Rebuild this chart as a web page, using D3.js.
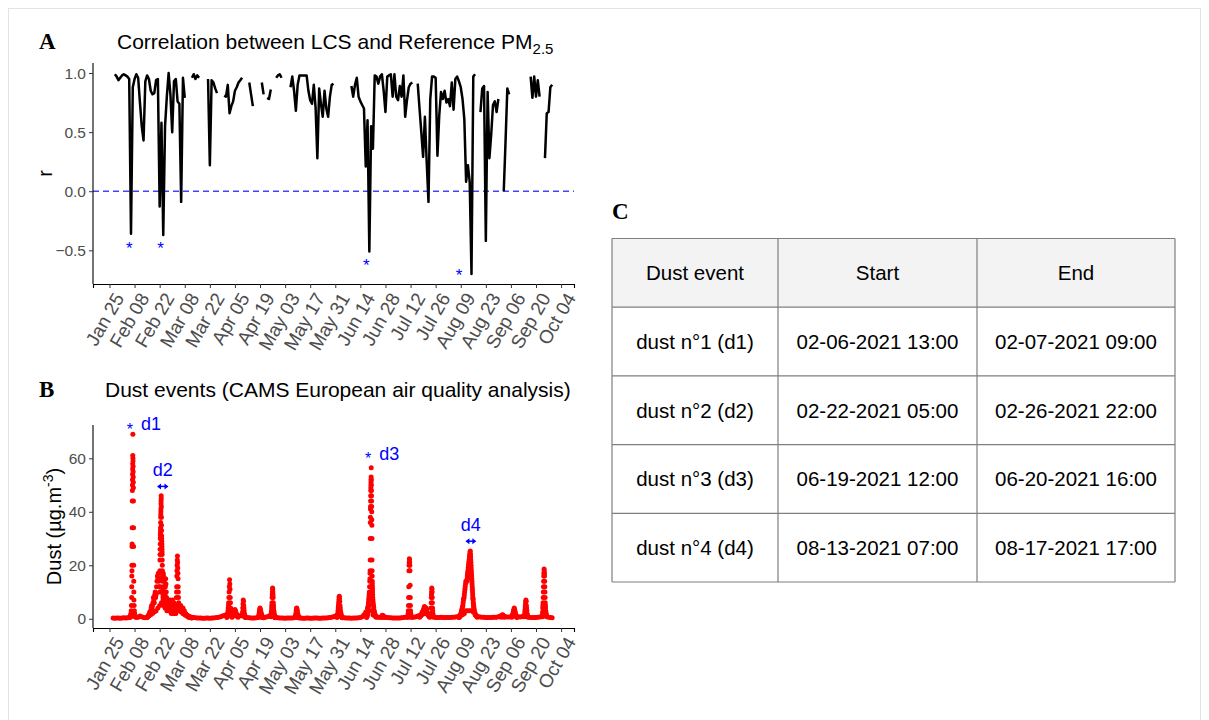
<!DOCTYPE html>
<html>
<head>
<meta charset="utf-8">
<script src="https://cdn.jsdelivr.net/npm/d3@7"></script>
<style>
  body { margin: 0; background: #fff; }
  text { font-family: Arial, "Liberation Sans", sans-serif; }
</style>
</head>
<body>
<div id="chart"></div>
<script>
const width = 1209;
const height = 720;

// daily correlation r between LCS and reference PM2.5, from 2021-01-28 (null = no data)
const rStart = "2021-01-28";
const rValues = [
  0.99, 0.97, 0.94, 0.96, 0.98, 0.99, 0.98, 0.97, 0.95, -0.36,
  0.88, 0.95, 0.99, 0.96, 0.75, 0.55, 0.43, 0.93, 0.98, 0.95,
  0.85, 0.82, 0.83, 0.94, 0.95, -0.13, 0.58, -0.37, 0.55, 0.80,
  1.00, 0.82, 0.50, 0.93, 0.95, 0.76, 0.74, -0.09, 0.96, 0.79,
  null, null, null, 0.96, 0.99, 0.95, 0.98, 0.96, null, null,
  null, null, 0.95, 0.22, 0.94, 0.92, 0.87, 0.83, null, null,
  null, 0.81, 0.80, 0.90, 0.66, 0.72, 0.76, 0.85, 0.88, 0.92,
  0.94, 0.96, null, null, null, 0.92, 0.82, 0.72, null, null,
  null, null, 0.92, 0.82, null, 0.79, 0.78, 0.86, null, null,
  0.96, 0.98, 0.99, 0.96, null, null, null, null, 0.88, 0.97,
  0.85, 0.68, 0.90, 0.98, 0.98, 0.98, 0.98, 0.98, 0.85, 0.77,
  0.74, 0.90, 0.71, 0.28, 0.87, 0.74, 0.63, 0.85, 0.70, 0.63,
  0.80, 0.90, 0.91, null, null, null, null, null, null, null,
  null, null, 0.89, 0.80, 0.90, 0.96, 0.80, 0.76, 0.73, 0.70,
  0.21, 0.60, -0.51, 0.55, 0.36, 0.98, 0.97, 0.91, 0.97, 0.99,
  0.85, 0.67, 0.97, 0.98, 0.99, 0.80, 0.99, 0.80, 0.77, 0.89,
  0.80, 0.98, 0.63, 0.77, 0.88, 0.91, 0.92, null, null, 0.91,
  0.70, 0.50, 0.29, 0.63, 0.25, -0.09, 0.78, 0.97, 0.97, 0.96,
  0.30, 0.64, 0.84, 0.78, 0.85, 0.75, 0.78, 0.72, 0.92, 0.69,
  0.95, 0.97, 0.93, 0.88, 0.78, 0.61, 0.08, 0.22, 0.08, -0.70,
  0.97, 0.99, null, null, 0.67, 0.87, 0.89, -0.42, 0.84, 0.28,
  0.48, 0.73, 0.76, 0.67, 0.78, null, null, 0.00, 0.42, 0.87,
  0.82, null, null, null, null, null, null, null, null, null,
  null, null, 0.97, 0.79, 0.97, 0.80, 0.94, 0.80, null, null,
  0.28, 0.66, 0.67, 0.88, 0.90
];

// asterisks under the dust-event dips
const rStarDates = ["2021-02-05 00", "2021-02-22 12", "2021-06-17 06", "2021-08-08 00"];
const rStarValues = [-0.44, -0.44, -0.59, -0.67];

const tickDates = ["2021-01-25", "2021-02-08", "2021-02-22", "2021-03-08", "2021-03-22",
  "2021-04-05", "2021-04-19", "2021-05-03", "2021-05-17", "2021-05-31", "2021-06-14",
  "2021-06-28", "2021-07-12", "2021-07-26", "2021-08-09", "2021-08-23", "2021-09-06",
  "2021-09-20", "2021-10-04"];
const rTicks = [-0.5, 0, 0.5, 1];
const dustTicks = [0, 20, 40, 60];

// dust background, one value per day from 2021-01-27
const dustDailyStart = "2021-01-27";
const dustDaily = [
  0.3, 0.2, 0.3, 0.3, 0.2, 0.3, 0.4, 0.3, 0.4, 0.6,
  1.0, 1.5, 0.8, 0.5, 0.6, 1.0, 0.8, 0.5, 0.4, 0.5,
  1.0, 1.5, 2.0, 2.5, 3, 4, 5, 6, 5, 4,
  3, 3, 4, 2.5, 3, 2, 4, 3, 2.5, 2,
  1.5, 1.2, 1.0, 0.8, 0.6, 0.5, 0.4, 0.3, 0.3, 0.3,
  0.2, 0.2, 0.3, 0.3, 0.2, 0.3, 0.3, 0.4, 0.5, 0.6,
  0.8, 1.0, 1.2, 1.5, 2, 1.5, 1.2, 1.5, 1.8, 1.2,
  1.0, 1.2, 1.5, 1.2, 0.8, 0.5, 0.4, 0.3, 0.3, 0.3,
  0.4, 0.6, 0.8, 0.6, 0.5, 0.6, 0.8, 1.0, 1.2, 1.5,
  1.0, 0.6, 0.4, 0.3, 0.3, 0.3, 0.2, 0.3, 0.3, 0.3,
  0.3, 0.4, 0.6, 0.5, 0.3, 0.3, 0.2, 0.2, 0.3, 0.3,
  0.2, 0.2, 0.3, 0.3, 0.3, 0.2, 0.2, 0.3, 0.3, 0.3,
  0.4, 0.5, 0.6, 0.8, 1.0, 1.2, 1.5, 1.0, 0.6, 0.4,
  0.3, 0.3, 0.3, 0.2, 0.3, 0.3, 0.3, 0.4, 0.5, 0.8,
  1.5, 2.5, 4, 5, 3, 1.5, 1.0, 0.8, 0.6, 0.6,
  0.8, 0.9, 0.6, 0.5, 0.4, 0.4, 0.3, 0.3, 0.3, 0.3,
  0.3, 0.4, 0.5, 0.6, 0.8, 1.0, 0.8, 0.6, 0.6, 0.8,
  1.0, 1.2, 1.5, 1.8, 2, 1.8, 1.5, 1.2, 0.8, 0.6,
  0.5, 0.5, 0.5, 0.6, 0.5, 0.5, 0.5, 0.5, 0.5, 0.6,
  0.6, 0.7, 0.8, 1.0, 1.2, 1.5, 2, 3, 3, 3,
  3, 2.5, 1.5, 1.0, 0.8, 0.7, 0.6, 0.6, 0.5, 0.5,
  0.5, 0.5, 0.6, 0.6, 0.6, 0.8, 1.0, 1.2, 1.0, 0.8,
  0.7, 0.7, 0.8, 1.0, 1.2, 1.0, 0.8, 0.7, 0.8, 1.0,
  1.2, 0.8, 0.6, 0.5, 0.5, 0.5, 0.5, 0.6, 0.7, 0.8,
  1.0, 1.2, 0.9, 0.6, 0.5, 0.4
];

// finer readings around the dust episodes: start hour, step in hours, values
const dustBursts = [
  {start: "2021-02-05 12", step: 3, values: [0.5, 0.8, 1, 1.5, 2, 3, 5, 8]},
  {start: "2021-02-06 10", step: 1, values: [12, 16, 20, 18, 27, 28, 34, 44, 48, 50, 52, 54, 56, 58, 61, 69, 60, 59, 57, 55, 53, 51, 49, 44, 34, 27, 20, 14, 10, 7]},
  {start: "2021-02-07 18", step: 3, values: [5, 3, 2, 1.5, 1, 0.8]},
  {start: "2021-02-15 00", step: 6, values: [0.5, 0.8, 1, 1.2, 1.5, 2, 2.5, 2, 3, 4, 5, 4, 5, 6, 8, 7, 6, 9, 10, 8, 9, 12, 14, 16, 15, 17, 14, 12]},
  {start: "2021-02-22 00", step: 1, values: [10, 12, 15, 18, 22, 24, 26, 28, 30, 31, 32, 33, 34, 36, 38, 39, 40, 41, 43, 44, 46, 45, 42, 38, 35, 33, 31, 30, 29, 28, 27, 26, 25, 24, 22, 20, 18, 17, 16, 15, 14, 12, 11, 10, 9, 8, 7, 6]},
  {start: "2021-02-24 00", step: 4, values: [17, 16, 15, 14, 12, 10, 9, 12, 15, 13, 10, 8, 7, 6, 5, 4, 6, 7, 5, 4, 3, 5, 6, 7, 6, 4, 3, 2, 3, 5, 6, 7, 5, 3, 2, 4, 6, 5, 4, 3, 2, 3]},
  {start: "2021-03-03 06", step: 2, values: [5, 8, 10, 12, 16, 18, 20, 22, 23.5, 21, 19, 17, 15, 12, 10, 8, 6, 5, 4, 3.5, 3, 4, 5, 3]},
  {start: "2021-03-05 06", step: 6, values: [4, 3, 5, 4, 3, 2.5, 3, 4, 2, 2.5, 3, 2, 1.5, 2, 1.5, 1.2, 1, 1.2, 0.8, 1, 0.7, 0.6, 0.5, 0.6, 0.5, 0.4, 0.4, 0.3]},
  {start: "2021-03-31 12", step: 3, values: [0.5, 0.8, 1, 1.5, 2, 3, 4, 5, 6, 8, 10, 12, 14.6, 13, 11, 8, 6, 4, 3, 2, 1.5, 1, 0.8, 0.6]},
  {start: "2021-04-04 00", step: 6, values: [1, 1.5, 2, 3, 3.5, 3, 2.5, 2, 1.5, 1, 0.8, 0.6]},
  {start: "2021-04-09 00", step: 3, values: [1, 1.5, 2.5, 4, 5.5, 7, 6.5, 5, 4, 3, 2, 1.5, 1, 0.8, 0.6, 0.5]},
  {start: "2021-04-18 00", step: 4, values: [0.5, 0.8, 1.2, 2, 2.8, 3.5, 4, 3.5, 3, 2.5, 2, 1.5, 1.2, 1, 0.8, 0.6, 0.5, 0.4]},
  {start: "2021-04-25 00", step: 2, values: [0.8, 1, 1.5, 2, 2.5, 3, 4, 5, 6, 8, 9, 10, 11.5, 11, 10, 9, 8, 6, 5, 4, 3, 2.5, 2, 1.5, 1.2, 1, 0.8, 0.6, 0.5, 0.4]},
  {start: "2021-05-08 12", step: 4, values: [0.5, 0.8, 1.2, 2, 3, 3.8, 4, 3.5, 2.8, 2, 1.5, 1, 0.8, 0.5, 0.4]},
  {start: "2021-06-01 00", step: 3, values: [0.5, 1, 1.5, 2, 3, 4, 5, 6, 7, 8, 8.4, 7.5, 6.5, 5, 4, 3, 2.5, 2, 1.5, 1, 0.8, 0.6, 0.5, 0.4]},
  {start: "2021-06-17 12", step: 3, values: [0.5, 0.8, 1, 1.5, 2, 3, 4, 5, 6, 7, 8, 9, 10, 12, 14]},
  {start: "2021-06-19 08", step: 1, values: [15, 17, 18, 22, 30, 36, 38, 41, 42, 44, 46, 48, 49, 50, 51, 52, 53, 56.5, 52, 50, 48, 46, 44, 42, 40, 37, 35, 30, 22, 18, 16, 14, 13, 12, 11, 10, 9, 8]},
  {start: "2021-06-21 00", step: 4, values: [7, 6, 5, 4, 3, 2.5, 2, 1.5, 1.2, 1, 0.8, 0.6]},
  {start: "2021-06-25 12", step: 6, values: [0.5, 0.8, 1, 1.3, 1.2, 1, 0.7, 0.5]},
  {start: "2021-07-10 12", step: 2, values: [0.5, 1, 2, 3, 5, 8, 12, 18, 20, 21, 22.4, 22, 21, 20, 18, 12.5, 8, 5, 3, 2, 1.5, 1, 0.8, 0.6]},
  {start: "2021-07-17 00", step: 6, values: [0.6, 0.8, 1, 1.2, 1.5, 2, 2.5, 2, 3, 3.5, 4, 4.6, 4.2, 3.5, 3, 4, 3.5, 2.5, 2, 1.5, 1.2, 1, 0.8, 0.6]},
  {start: "2021-07-23 06", step: 2, values: [1, 2, 4, 6, 8, 9, 10, 11.5, 11, 10, 8, 6, 4, 3, 2, 1.5, 1, 0.8]},
  {start: "2021-08-08 00", step: 4, values: [0.5, 0.6, 0.8, 1, 1.2, 1.5, 1.8, 2, 2.5, 3, 3.5, 4, 4.5, 5, 6, 7, 7.5, 8, 9, 10, 11, 12, 13, 14]},
  {start: "2021-08-12 12", step: 2, values: [14, 15, 16, 15, 17, 16, 18, 17, 19, 18, 20, 19, 21, 20, 22, 21, 23, 22, 24, 23, 25, 24, 25.3, 24, 23, 22, 21, 20, 19, 18, 17, 16, 15, 14, 13, 12, 11, 10, 9, 8, 7.5, 7, 6, 5.5, 5, 4.5, 4, 3.5]},
  {start: "2021-08-16 12", step: 6, values: [3, 2.5, 2, 1.5, 1.2, 1, 0.8, 0.6]},
  {start: "2021-08-31 12", step: 6, values: [0.6, 0.9, 1.2, 1.5, 1.4, 1.1, 0.8, 0.6]},
  {start: "2021-09-06 12", step: 4, values: [0.6, 0.9, 1.2, 1.6, 2, 2.5, 3, 3.5, 4, 3.6, 3, 2.5, 2, 1.6, 1.2, 0.9, 0.7, 0.5]},
  {start: "2021-09-13 12", step: 3, values: [0.8, 1.5, 2.5, 3.5, 4.5, 5.5, 6.5, 7, 6.5, 5, 4, 3, 2, 1.5, 1, 0.7]},
  {start: "2021-09-23 12", step: 2, values: [0.8, 1.5, 2.5, 4, 5, 6, 8, 10, 12, 14, 16, 17, 18.6, 18, 17, 16, 14, 12, 10, 8, 6, 5, 4, 3, 2.5, 2, 1.5, 1.2, 1, 0.8]}
];

// dust events (table C and the labels of panel B)
const eventNames = ["dust n°1 (d1)", "dust n°2 (d2)", "dust n°3 (d3)", "dust n°4 (d4)"];
const eventLabels = ["d1", "d2", "d3", "d4"];
const eventStarts = ["02-06-2021 13:00", "02-22-2021 05:00", "06-19-2021 12:00", "08-13-2021 07:00"];
const eventEnds = ["02-07-2021 09:00", "02-26-2021 22:00", "06-20-2021 16:00", "08-17-2021 17:00"];
const eventMarks = ["star", "arrow", "star", "arrow"];
const eventMarkValues = [72.6, 49.5, 61.5, 29];
const tableHeader = ["Dust event", "Start", "End"];

const parseDay = d3.utcParse("%Y-%m-%d");
const parseHour = d3.utcParse("%Y-%m-%d %H");
const parseEvent = d3.utcParse("%m-%d-%Y %H:%M");

var svg = d3.select("#chart").append("svg")
    .attr("width", width).attr("height", height);

// faint frame round the figure
svg.append("rect")
    .attr("x", 8.5).attr("y", 8.5).attr("width", 1192).attr("height", 740)
    .attr("fill", "none").attr("stroke", "#e3e3e3");

var panelA = {left: 93, right: 574, top: 63, bottom: 284};
var panelB = {left: 93, right: 574, top: 425, bottom: 628};

// data for panel A
var rData = rValues.map(function (v, i) {
    return {date: d3.utcDay.offset(parseDay(rStart), i), r: v};
});

// data for panel B
var dustPoints = dustDaily.map(function (v, i) {
    return {date: d3.utcDay.offset(parseDay(dustDailyStart), i), v: v};
});
dustBursts.forEach(function (b) {
    b.values.forEach(function (v, i) {
        dustPoints.push({date: d3.utcHour.offset(parseHour(b.start), i * b.step), v: v});
    });
});

// ggplot-like 5% expansion
function expand(ext) {
    var pad = (ext[1] - ext[0]) * 0.05;
    return [ext[0] - pad, ext[1] + pad];
}

var dateExt = d3.extent(rData, function (d) { return d.date; }).map(Number);
var x = d3.scaleUtc()
    .domain(expand(dateExt).map(function (t) { return new Date(t); }))
    .range([panelA.left, panelA.right]);

var yA = d3.scaleLinear()
    .domain(expand(d3.extent(rValues.filter(function (v) { return v !== null; }))))
    .range([panelA.bottom, panelA.top]);

var yB = d3.scaleLinear()
    .domain(expand([0, d3.max(dustPoints, function (d) { return d.v; })]))
    .range([panelB.bottom, panelB.top]);

var ticks = tickDates.map(parseDay);

function drawXAxis(g, y0) {
    var ax = g.append("g")
        .attr("transform", "translate(0," + y0 + ")")
        .call(d3.axisBottom(x).tickValues(ticks).tickSize(4).tickFormat(d3.utcFormat("%b %d")));
    ax.select(".domain").attr("stroke", "#000").attr("stroke-width", 1.1);
    ax.selectAll(".tick line").attr("stroke", "#333");
    ax.selectAll(".tick text")
        .attr("fill", "#4d4d4d")
        .style("font-size", "19px")
        .style("font-family", "Arial, 'Liberation Sans', sans-serif")
        .attr("y", 0).attr("dy", "0.72em")
        .attr("text-anchor", "end")
        .attr("transform", "translate(3,7) rotate(-60)");
}

function drawYAxis(g, scale, tv, fmt, panel) {
    var ax = g.append("g")
        .attr("transform", "translate(" + panel.left + ",0)")
        .call(d3.axisLeft(scale).tickValues(tv).tickSize(4).tickPadding(3).tickFormat(fmt));
    ax.select(".domain").attr("stroke", "#000").attr("stroke-width", 1.1)
        .attr("d", "M0," + panel.top + "V" + panel.bottom);
    ax.selectAll(".tick line").attr("stroke", "#333");
    ax.selectAll(".tick text")
        .attr("fill", "#4d4d4d")
        .style("font-size", "15.5px")
        .style("font-family", "Arial, 'Liberation Sans', sans-serif");
}

// ---------- panel A ----------
var gA = svg.append("g");

gA.append("text")
    .attr("x", 39).attr("y", 48.5)
    .style("font-family", "'Liberation Serif', 'Times New Roman', serif")
    .attr("font-weight", "bold").attr("font-size", 23)
    .text("A");

var titleA = gA.append("text")
    .attr("x", 117).attr("y", 48.5)
    .attr("font-size", 21).attr("fill", "#000");
titleA.append("tspan").text("Correlation between LCS and Reference PM");
titleA.append("tspan").attr("dy", 5).attr("font-size", 15).text("2.5");

gA.append("line")
    .attr("x1", panelA.left).attr("x2", panelA.right)
    .attr("y1", yA(0)).attr("y2", yA(0))
    .attr("stroke", "#2323ff").attr("stroke-opacity", 0.85)
    .attr("stroke-width", 1.5).attr("stroke-dasharray", "6,4");

var line = d3.line()
    .defined(function (d) { return d.r !== null; })
    .x(function (d) { return x(d.date); })
    .y(function (d) { return yA(d.r); });

gA.append("path")
    .datum(rData)
    .attr("d", line)
    .attr("fill", "none")
    .attr("stroke", "#000")
    .attr("stroke-width", 2.5)
    .attr("stroke-linejoin", "round");

gA.selectAll(".rstar")
    .data(rStarDates)
    .enter()
    .append("text")
    .attr("class", "rstar")
    .attr("x", function (d) { return x(parseHour(d)); })
    .attr("y", function (d, i) { return yA(rStarValues[i]); })
    .attr("dy", "0.62em")
    .attr("text-anchor", "middle")
    .attr("font-size", 17)
    .attr("fill", "#0000ff")
    .text("*");

drawXAxis(gA, panelA.bottom);
drawYAxis(gA, yA, rTicks, d3.format(".1f"), panelA);

gA.append("text")
    .attr("transform", "translate(52," + (panelA.top + panelA.bottom) / 2 + ") rotate(-90)")
    .attr("text-anchor", "middle")
    .attr("font-size", 20)
    .text("r");

// ---------- panel B ----------
var gB = svg.append("g");

gB.append("text")
    .attr("x", 39).attr("y", 397)
    .style("font-family", "'Liberation Serif', 'Times New Roman', serif")
    .attr("font-weight", "bold").attr("font-size", 23)
    .text("B");

gB.append("text")
    .attr("x", 105).attr("y", 397)
    .attr("font-size", 21)
    .text("Dust events (CAMS European air quality analysis)");

gB.selectAll(".pt")
    .data(dustPoints)
    .enter()
    .append("circle")
    .attr("class", "pt")
    .attr("cx", function (d) { return x(d.date); })
    .attr("cy", function (d) { return yB(d.v); })
    .attr("r", 2.5)
    .attr("fill", "#ff0000");

// event marks
var marks = gB.selectAll(".mark")
    .data(eventLabels)
    .enter()
    .append("g")
    .attr("class", "mark");

marks.each(function (lab, i) {
    var g = d3.select(this);
    var t0 = x(parseEvent(eventStarts[i]));
    var t1 = x(parseEvent(eventEnds[i]));
    var yy = yB(eventMarkValues[i]);
    if (eventMarks[i] === "star") {
        g.append("text")
            .attr("x", t0 - 2).attr("y", yy).attr("dy", "0.62em")
            .attr("text-anchor", "middle")
            .attr("font-size", 16).attr("fill", "#0000ff")
            .text("*");
        g.append("text")
            .attr("x", t0 + 9).attr("y", yy + 5.5)
            .attr("font-size", 18).attr("fill", "#0000ff")
            .text(lab);
    } else {
        var x0 = t0 - 3, x1 = t1;
        g.append("line")
            .attr("x1", x0 + 3).attr("x2", x1 - 3)
            .attr("y1", yy).attr("y2", yy)
            .attr("stroke", "#0000ff").attr("stroke-width", 1.5);
        g.append("path")
            .attr("d", "M" + x0 + "," + yy + "l4,-3v6z M" + x1 + "," + yy + "l-4,-3v6z")
            .attr("fill", "#0000ff");
        g.append("text")
            .attr("x", (x0 + x1) / 2).attr("y", yy - 10)
            .attr("text-anchor", "middle")
            .attr("font-size", 18).attr("fill", "#0000ff")
            .text(lab);
    }
});

drawXAxis(gB, panelB.bottom);
drawYAxis(gB, yB, dustTicks, d3.format("d"), panelB);

var ylabB = gB.append("text")
    .attr("transform", "translate(61," + (panelB.top + panelB.bottom) / 2 + ") rotate(-90)")
    .attr("text-anchor", "middle")
    .attr("font-size", 20);
ylabB.append("tspan").text("Dust (µg.m");
ylabB.append("tspan").attr("dy", -8).attr("font-size", 14).text("-3");
ylabB.append("tspan").attr("dy", 8).text(")");

// ---------- panel C: table ----------
var gC = svg.append("g");

gC.append("text")
    .attr("x", 612).attr("y", 219)
    .style("font-family", "'Liberation Serif', 'Times New Roman', serif")
    .attr("font-weight", "bold").attr("font-size", 23)
    .text("C");

var colEdges = [612, 778, 977, 1175];
var tableTop = 238.5, tableBottom = 582;
var rows = [tableHeader].concat(eventNames.map(function (n, i) {
    return [n, eventStarts[i], eventEnds[i]];
}));
var rowScale = d3.scaleBand()
    .domain(d3.range(rows.length))
    .range([tableTop, tableBottom]);

gC.append("rect")
    .attr("x", colEdges[0]).attr("y", tableTop)
    .attr("width", colEdges[3] - colEdges[0]).attr("height", rowScale.bandwidth())
    .attr("fill", "#f3f3f3");

var rowG = gC.selectAll(".row")
    .data(rows)
    .enter()
    .append("g")
    .attr("class", "row");

rowG.selectAll("text")
    .data(function (d, i) { return d.map(function (c, j) { return {c: c, i: i, j: j}; }); })
    .enter()
    .append("text")
    .attr("x", function (d) { return (colEdges[d.j] + colEdges[d.j + 1]) / 2; })
    .attr("y", function (d) { return rowScale(d.i) + rowScale.bandwidth() / 2; })
    .attr("dy", "0.36em")
    .attr("text-anchor", "middle")
    .attr("font-size", 20.5)
    .attr("fill", "#000")
    .text(function (d) { return d.c; });

// grid lines
d3.range(rows.length + 1).forEach(function (i) {
    var yy = i < rows.length ? rowScale(i) : tableBottom;
    gC.append("line")
        .attr("x1", colEdges[0]).attr("x2", colEdges[3])
        .attr("y1", yy).attr("y2", yy)
        .attr("stroke", "#7f7f7f").attr("stroke-width", 1.2);
});
colEdges.forEach(function (cx) {
    gC.append("line")
        .attr("x1", cx).attr("x2", cx)
        .attr("y1", tableTop).attr("y2", tableBottom)
        .attr("stroke", "#7f7f7f").attr("stroke-width", 1.2);
});
</script>
</body>
</html>
